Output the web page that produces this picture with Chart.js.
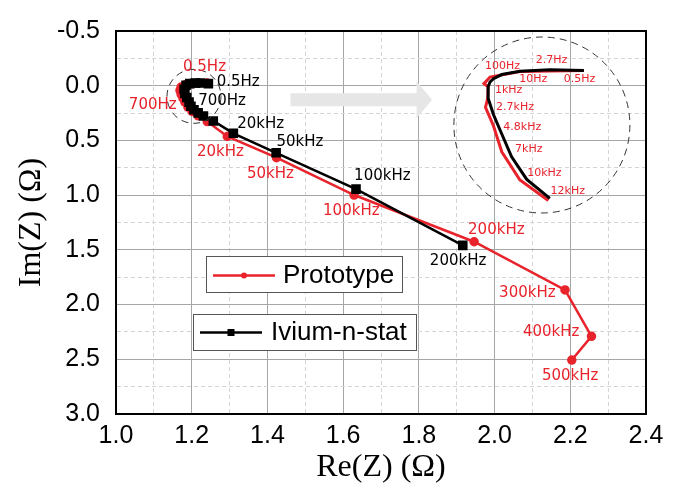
<!DOCTYPE html>
<html lang="en">
<head>
<meta charset="UTF-8">
<title>Nyquist plot - Prototype vs Ivium-n-stat</title>
<script src="https://cdn.jsdelivr.net/npm/chart.js@4"></script>
<style>
  body { margin: 0; background: #fff; }
  #wrap { width: 680px; height: 491px; }
</style>
</head>
<body>
<div id="wrap"><canvas id="nyquist" width="680" height="491"></canvas></div>
<script>
// Prototype (red), Re(Z) / Im(Z) in ohm, 0.5 Hz -> 500 kHz
const protoRe = [1.240, 1.219, 1.201, 1.185, 1.172, 1.169, 1.172, 1.177, 1.182, 1.190, 1.201, 1.217, 1.241, 1.294, 1.424, 1.629, 1.946, 2.186, 2.256, 2.204];
const protoIm = [-0.024, -0.024, -0.019, -0.010, 0.012, 0.043, 0.079, 0.114, 0.150, 0.195, 0.235, 0.275, 0.328, 0.464, 0.658, 0.999, 1.426, 1.866, 2.290, 2.507];

// Ivium-n-stat (black), 0.5 Hz -> 200 kHz
const iviumRe = [1.244, 1.222, 1.209, 1.195, 1.185, 1.180, 1.182, 1.187, 1.193, 1.198, 1.206, 1.217, 1.231, 1.257, 1.310, 1.423, 1.634, 1.916];
const iviumIm = [-0.019, -0.025, -0.025, -0.019, -0.004, 0.032, 0.070, 0.108, 0.150, 0.188, 0.219, 0.248, 0.277, 0.322, 0.435, 0.613, 0.945, 1.459];

// magnified view of the low-frequency part, drawn inside the big dashed circle
const protoZoomRe = [2.236, 2.067, 1.988, 1.972, 1.983, 1.982, 1.976, 1.997, 2.019, 2.067, 2.142];
const protoZoomIm = [-0.138, -0.129, -0.079, -0.019, 0.010, 0.114, 0.197, 0.366, 0.604, 0.862, 1.049];
const iviumZoomRe = [2.236, 2.146, 2.067, 2.019, 1.997, 1.988, 1.983, 1.983, 1.997, 2.019, 2.045, 2.085, 2.146];
const iviumZoomIm = [-0.138, -0.146, -0.132, -0.102, -0.064, -0.034, 0.010, 0.114, 0.263, 0.441, 0.649, 0.856, 1.029];

// frequency tags
const protoTags = ['0.5Hz', '700Hz', '20kHz', '50kHz', '100kHz', '200kHz', '300kHz', '400kHz', '500kHz'];
const iviumTags = ['0.5Hz', '700Hz', '20kHz', '50kHz', '100kHz', '200kHz'];
const zoomTags = ['100Hz', '2.7Hz', '10Hz', '0.5Hz', '1kHz', '2.7kHz', '4.8kHz', '7kHz', '10kHz', '12kHz'];

const RED = '#e8232b';

function pts(re, im) {
  return re.map((v, i) => ({ x: v, y: im[i] }));
}

// where the tags sit (left edge, middle), in axis units
const protoTagAt = [[1.177, -0.168], [1.034, 0.179], [1.214, 0.604], [1.346, 0.809], [1.547, 1.147], [1.930, 1.317], [2.012, 1.895], [2.075, 2.252], [2.125, 2.652]];
const iviumTagAt = [[1.266, -0.034], [1.217, 0.141], [1.320, 0.352], [1.424, 0.515], [1.629, 0.827], [1.829, 1.599]];
const zoomTagAt = [[1.975, -0.177], [2.109, -0.236], [2.065, -0.057], [2.183, -0.057], [2.001, 0.041], [2.004, 0.197], [2.023, 0.375], [2.054, 0.584], [2.086, 0.797], [2.148, 0.967]];

const decor = {
  id: 'decor',
  beforeDatasetsDraw(chart) {
    const { ctx, scales: { x, y } } = chart;
    // grey arrow pointing to the magnified view
    const x0 = x.getPixelForValue(1.461), xb = x.getPixelForValue(1.794), xt = x.getPixelForValue(1.835);
    const yc = y.getPixelForValue(0.128);
    ctx.save();
    ctx.fillStyle = '#e6e6e6';
    ctx.beginPath();
    ctx.moveTo(x0, yc - 6.5);
    ctx.lineTo(xb, yc - 6.5);
    ctx.lineTo(xb, yc - 18.5);
    ctx.lineTo(xt, yc);
    ctx.lineTo(xb, yc + 18.5);
    ctx.lineTo(xb, yc + 6.5);
    ctx.lineTo(x0, yc + 6.5);
    ctx.closePath();
    ctx.fill();
    ctx.restore();
  },
  afterDatasetsDraw(chart) {
    const { ctx, chartArea: a, scales: { x, y } } = chart;
    ctx.save();

    // frame
    ctx.strokeStyle = '#000';
    ctx.lineWidth = 2;
    ctx.strokeRect(a.left, a.top, a.right - a.left, a.bottom - a.top);

    // dashed circles
    ctx.strokeStyle = '#333';
    ctx.lineWidth = 1;
    ctx.setLineDash([7, 5]);
    ctx.beginPath();
    ctx.arc(x.getPixelForValue(1.206), y.getPixelForValue(0.097), 27, 0, Math.PI * 2);
    ctx.stroke();
    ctx.beginPath();
    ctx.arc(x.getPixelForValue(2.125), y.getPixelForValue(0.359), 88, 0, Math.PI * 2);
    ctx.stroke();
    ctx.setLineDash([]);

    // tags
    ctx.textBaseline = 'middle';
    ctx.textAlign = 'left';
    ctx.font = '15px "DejaVu Sans"';
    ctx.fillStyle = RED;
    protoTags.forEach((t, i) => ctx.fillText(t, x.getPixelForValue(protoTagAt[i][0]), y.getPixelForValue(protoTagAt[i][1])));
    ctx.fillStyle = '#000';
    iviumTags.forEach((t, i) => ctx.fillText(t, x.getPixelForValue(iviumTagAt[i][0]), y.getPixelForValue(iviumTagAt[i][1])));
    ctx.font = '11px "DejaVu Sans"';
    ctx.fillStyle = RED;
    zoomTags.forEach((t, i) => ctx.fillText(t, x.getPixelForValue(zoomTagAt[i][0]), y.getPixelForValue(zoomTagAt[i][1])));

    // the two legend boxes
    ctx.font = '26px "Liberation Sans"';
    ctx.lineWidth = 1;
    ctx.fillStyle = '#fff';
    ctx.strokeStyle = '#555';
    ctx.fillRect(206.5, 256.5, 196, 36);
    ctx.strokeRect(206.5, 256.5, 196, 36);
    ctx.fillRect(193.5, 314.5, 223, 36);
    ctx.strokeRect(193.5, 314.5, 223, 36);

    ctx.strokeStyle = RED;
    ctx.lineWidth = 2.5;
    ctx.beginPath();
    ctx.moveTo(213, 275.5);
    ctx.lineTo(275, 275.5);
    ctx.stroke();
    ctx.fillStyle = RED;
    ctx.beginPath();
    ctx.arc(244, 275.5, 3, 0, Math.PI * 2);
    ctx.fill();

    ctx.strokeStyle = '#000';
    ctx.beginPath();
    ctx.moveTo(200, 332.5);
    ctx.lineTo(262, 332.5);
    ctx.stroke();
    ctx.fillStyle = '#000';
    ctx.fillRect(227.5, 329, 7, 7);

    ctx.fillText('Prototype', 283, 276);
    ctx.fillText('Ivium-n-stat', 271, 333);
    ctx.restore();
  }
};

const isMajor = (v, step) => Math.abs(v / step - Math.round(v / step)) < 1e-6;

new Chart(document.getElementById('nyquist'), {
  type: 'scatter',
  data: {
    datasets: [
      { label: 'Ivium-n-stat', data: pts(iviumRe, iviumIm), showLine: true, borderColor: '#000', backgroundColor: '#000',
        borderWidth: 2.5, pointStyle: 'rect', pointRadius: 5, order: 0 },
      { label: 'Prototype', data: pts(protoRe, protoIm), showLine: true, borderColor: RED, backgroundColor: RED,
        borderWidth: 2.5, pointRadius: 3.5, order: 1 },
      { label: 'Ivium zoom', data: pts(iviumZoomRe, iviumZoomIm), showLine: true, borderColor: '#000',
        borderWidth: 3, pointRadius: 0, order: 0 },
      { label: 'Prototype zoom', data: pts(protoZoomRe, protoZoomIm), showLine: true, borderColor: RED,
        borderWidth: 3, pointRadius: 0, order: 1 }
    ]
  },
  options: {
    responsive: false,
    animation: false,
    devicePixelRatio: 1,
    layout: { padding: { top: 21, right: 34, left: 0, bottom: 0 } },
    plugins: { legend: { display: false }, tooltip: { enabled: false } },
    scales: {
      x: {
        type: 'linear', min: 1.0, max: 2.4,
        afterFit: s => { s.height = 77; },
        ticks: {
          stepSize: 0.1, autoSkip: false, maxRotation: 0, padding: 7, color: '#000',
          font: { family: 'Liberation Sans', size: 25 },
          callback: v => isMajor(v, 0.2) ? v.toFixed(1) : ''
        },
        grid: {
          drawTicks: false,
          color: c => isMajor(c.tick.value, 0.2) ? '#a6a6a6' : '#d4d4d4'
        },
        border: { color: '#000', width: 2, dash: c => (c.tick && !isMajor(c.tick.value, 0.2)) ? [4, 3] : [] },
        title: { display: true, text: 'Re(Z) (Ω)', color: '#000', font: { family: 'Liberation Serif', size: 32 }, padding: { bottom: 4 } }
      },
      y: {
        type: 'linear', min: -0.5, max: 3.0, reverse: true,
        afterFit: s => { s.width = 116; },
        ticks: {
          stepSize: 0.25, autoSkip: false, padding: 16, color: '#000',
          font: { family: 'Liberation Sans', size: 25 },
          callback: v => isMajor(v, 0.5) ? v.toFixed(1) : ''
        },
        grid: {
          drawTicks: false,
          color: c => isMajor(c.tick.value, 0.5) ? '#a6a6a6' : '#d4d4d4'
        },
        border: { color: '#000', width: 2, dash: c => (c.tick && !isMajor(c.tick.value, 0.5)) ? [4, 3] : [] },
        title: { display: true, text: 'Im(Z) (Ω)', color: '#000', font: { family: 'Liberation Serif', size: 32 }, padding: { top: 12 } }
      }
    }
  },
  plugins: [decor]
});
</script>
</body>
</html>
